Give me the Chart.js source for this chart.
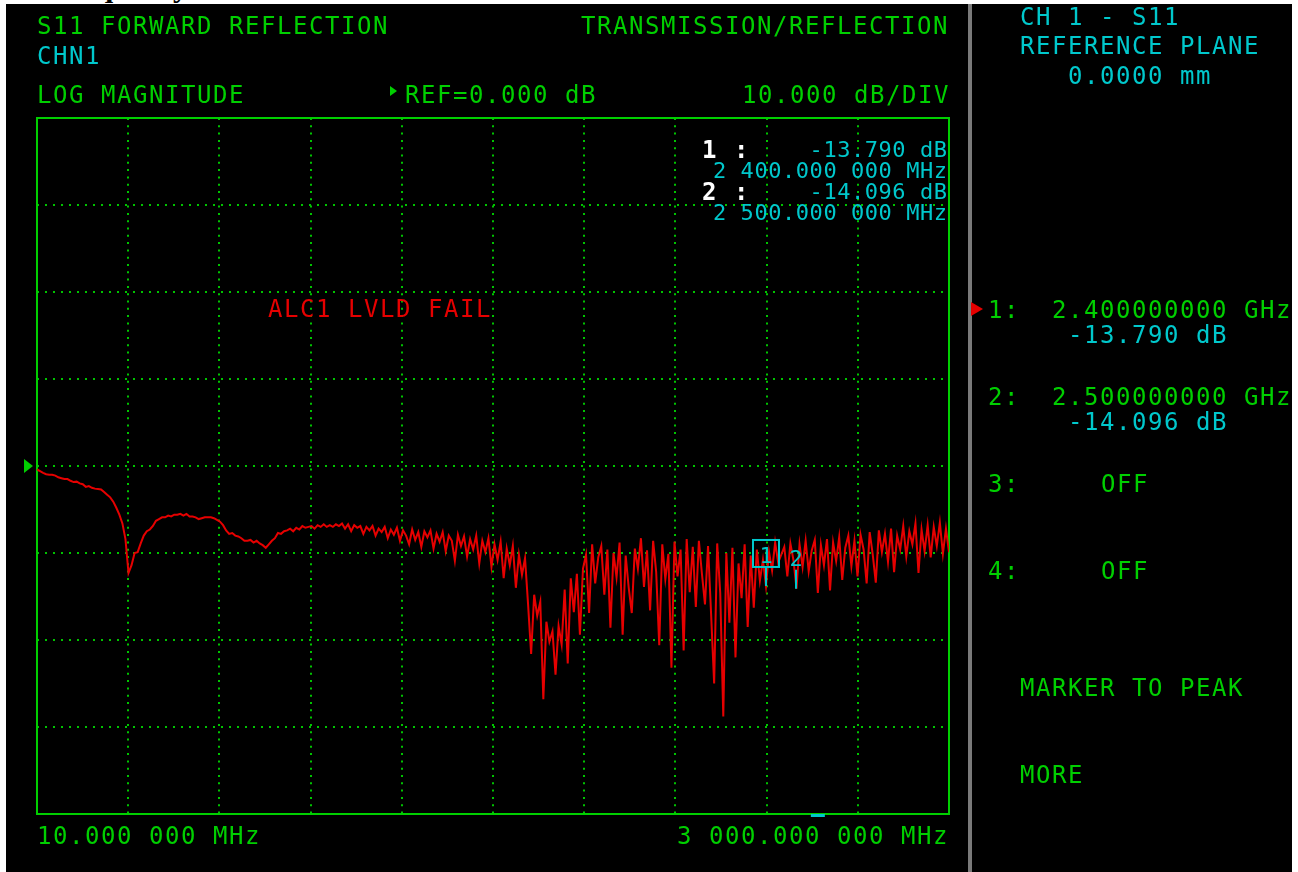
<!DOCTYPE html>
<html>
<head>
<meta charset="utf-8">
<title>S11 Forward Reflection</title>
<script src="https://cdn.jsdelivr.net/npm/chart.js@4.4.1/dist/chart.umd.min.js"></script>
<style>
  html, body { margin: 0; padding: 0; background: #fff; width: 1298px; height: 872px; overflow: hidden; }
  #caption { position: absolute; left: 52px; top: -30px; font: bold 30px 'Liberation Serif', serif; color: #000; white-space: pre; line-height: normal; }
  #screen { position: absolute; left: 6px; top: 4px; width: 1286px; height: 868px; background: #000; }
  #divider { position: absolute; left: 968px; top: 4px; width: 4px; height: 868px; background: #7a7a7a; }
  #plot { position: absolute; left: 0; top: 0; }
  .t { position: absolute; font-family: 'DejaVu Sans Mono', monospace; font-size: 24px; line-height: 28px;
       letter-spacing: 1.55px; white-space: pre; }
  .sm { font-size: 22px; letter-spacing: 0.55px; }
  .bw { font-weight: bold; color: #fff; }
  .tri { position: absolute; width: 0; height: 0; border-top-style: solid; border-bottom-style: solid;
         border-top-color: transparent; border-bottom-color: transparent; border-left-style: solid; }
</style>
</head>
<body>
<div id="caption">Frequency</div>
<div id="screen"></div>
<div id="divider"></div>
<canvas id="plot" width="1298" height="872"></canvas>
<div id="texts"></div>
<script>
// Sweep definition (MHz)
const START_MHZ = 10;
const STOP_MHZ = 3000;
const STEP_MHZ = 10;

// Display settings
const refLevelDb = 0;
const scaleDbPerDiv = 10;
const divsX = 10;
const divsY = 8;

// Measured S11 magnitude, one value per sweep point (dB)
const s11Db = [
  -0.4, -0.6, -0.8, -0.95, -1.0, -1.0, -1.1, -1.3, -1.4, -1.5,
  -1.5, -1.7, -1.85, -1.8, -2.0, -2.1, -2.4, -2.3, -2.5, -2.6,
  -2.65, -2.7, -3.0, -3.3, -3.6, -4.1, -4.8, -5.6, -6.6, -8.4,
  -12.3, -11.4, -10.0, -9.9, -8.9, -8.0, -7.5, -7.3, -6.9, -6.3,
  -6.1, -5.9, -5.9, -5.7, -5.8, -5.6, -5.6, -5.5, -5.7, -5.5,
  -5.8, -5.8, -5.9, -6.1, -6.0, -5.9, -5.9, -5.9, -6.0, -6.2,
  -6.4, -6.8, -7.4, -7.8, -7.7, -8.0, -8.1, -8.3, -8.6, -8.6,
  -8.5, -8.8, -8.6, -8.9, -9.1, -9.4, -9.0, -8.6, -8.3, -7.7,
  -7.8, -7.5, -7.4, -7.2, -7.5, -7.1, -7.3, -6.9, -7.1, -7.0,
  -6.9, -7.2, -6.8, -7.0, -6.7, -7.0, -6.8, -7.0, -6.7, -6.9,
  -6.6, -7.2, -6.7, -7.5, -6.8, -7.1, -6.9, -7.8, -7.0, -7.4,
  -6.9, -8.0, -7.2, -7.6, -7.0, -8.3, -7.3, -7.9, -7.1, -8.6,
  -7.4, -8.0, -9.0, -7.3, -8.5, -7.6, -9.3, -7.5, -8.2, -7.4,
  -9.5, -7.8, -8.7, -7.6, -9.8, -8.0, -8.6, -10.9, -7.9, -9.2,
  -8.1, -10.4, -8.4, -9.6, -8.0, -11.2, -8.6, -9.9, -8.3, -11.6,
  -9.0, -10.8, -8.7, -12.9, -9.5, -11.4, -9.2, -14.0, -10.2, -12.5,
  -10.6, -15.9, -21.6, -14.8, -17.2, -15.6, -26.8, -17.9, -20.2, -19.0,
  -24.0, -18.4, -20.5, -14.2, -22.7, -12.9, -16.8, -12.4, -19.4, -11.8,
  -10.2, -16.9, -9.0, -13.5, -10.5, -9.2, -14.8, -9.6, -18.6, -10.0,
  -12.8, -8.8, -19.4, -10.3, -14.0, -16.9, -9.5, -11.8, -8.3, -13.9,
  -9.7, -16.6, -8.6, -12.2, -20.6, -9.0, -13.0, -10.1, -23.2, -8.7,
  -12.7, -9.6, -21.2, -8.4, -14.5, -9.3, -16.2, -8.6, -12.4, -15.9,
  -9.2, -17.0, -25.0, -8.9, -14.6, -28.8, -10.0, -18.0, -9.4, -22.0,
  -11.2, -15.2, -9.0, -18.5, -10.3, -16.3, -9.6, -13.2, -10.8, -13.79,
  -9.9, -12.0, -8.8, -11.1, -10.2, -9.3, -12.7, -8.9, -10.8, -14.096,
  -9.0, -11.6, -8.6, -12.1, -9.7, -8.5, -14.6, -9.1, -11.4, -8.4,
  -14.3, -8.8, -10.9, -8.2, -13.1, -9.4, -8.0, -11.5, -8.6, -12.7,
  -7.9, -9.6, -13.5, -7.6, -10.2, -13.4, -7.4, -9.9, -7.8, -11.0,
  -7.2, -12.2, -8.0, -9.6, -6.9, -10.4, -7.5, -9.0, -6.6, -12.3,
  -7.3, -9.8, -6.8, -10.5, -7.0, -9.2, -6.5, -10.1, -7.2, -9.9
];

// Markers
const markerFreqMHz = [2400, 2500];
const markerDb = [-13.790, -14.096];
const markerStates = ['ON', 'ON', 'OFF', 'OFF'];

// Sweep position indicator under the graticule
const sweepIndicatorMHz = 2570;

const GREEN = '#00cf00';
const GRID = '#00c400';
const CYAN = '#00c8cc';
const RED = '#e60000';

// ---- number formatting like the instrument ----
function fmtMHz(f) {
  const whole = Math.floor(f);
  const intStr = whole >= 1000
    ? Math.floor(whole / 1000) + ' ' + String(whole % 1000).padStart(3, '0')
    : String(whole);
  const frac = String(Math.round((f - whole) * 1e6)).padStart(6, '0');
  return intStr + '.' + frac.slice(0, 3) + ' ' + frac.slice(3) + ' MHz';
}
function fmtGHz(f) { return (f / 1000).toFixed(9) + ' GHz'; }
function fmtDb(v) { return v.toFixed(3) + ' dB'; }

// ---- annotation text ----
const textLayer = document.getElementById('texts');
function addText(str, x, capTop, color, cls, alignRight) {
  const d = document.createElement('div');
  d.className = 't' + (cls ? ' ' + cls : '');
  d.textContent = str;
  d.style.top = (capTop - 5) + 'px';
  if (color) d.style.color = color;
  if (alignRight) {
    d.style.right = (1298 - x) + 'px';
    d.style.marginRight = cls && cls.indexOf('sm') >= 0 ? '-0.55px' : '-1.55px';
  } else {
    d.style.left = x + 'px';
  }
  textLayer.appendChild(d);
  return d;
}
function addTri(x, y, w, h, color) {
  const d = document.createElement('div');
  d.className = 'tri';
  d.style.left = x + 'px';
  d.style.top = y + 'px';
  d.style.borderLeftWidth = w + 'px';
  d.style.borderLeftColor = color;
  d.style.borderTopWidth = (h / 2) + 'px';
  d.style.borderBottomWidth = (h / 2) + 'px';
  textLayer.appendChild(d);
}

// Header
addText('S11 FORWARD REFLECTION', 37, 17, GREEN);
addText('TRANSMISSION/REFLECTION', 581, 17, GREEN);
addText('CHN1', 37, 47, CYAN);
addText('LOG MAGNITUDE', 37, 86, GREEN);
addTri(390, 86, 7, 10, GREEN);
addText('REF=' + refLevelDb.toFixed(3) + ' dB', 405, 86, GREEN);
addText(scaleDbPerDiv.toFixed(3) + ' dB/DIV', 742, 86, GREEN);

// Marker readout inside the graticule
markerFreqMHz.forEach((f, i) => {
  const y0 = 141 + i * 42;
  addText((i + 1) + ' :', 702, y0, null, 'bw');
  addText(fmtDb(markerDb[i]), 947, y0, CYAN, 'sm', true);
  addText(fmtMHz(f), 947, y0 + 21, CYAN, 'sm', true);
});

// Warning message
addText('ALC1 LVLD FAIL', 268, 300, RED);

// Stimulus span
addText(fmtMHz(START_MHZ), 37, 827, GREEN);
addText(fmtMHz(STOP_MHZ), 677, 827, GREEN);

// Right-hand softkey panel
addText('CH 1 - S11', 1020, 8, CYAN);
addText('REFERENCE PLANE', 1020, 37, CYAN);
addText('0.0000 mm', 1068, 67, CYAN);
addTri(971, 302, 12, 15, RED);
markerStates.forEach((st, i) => {
  const y0 = 301 + i * 87;
  addText((i + 1) + ':', 988, y0, GREEN);
  if (st === 'ON') {
    addText(fmtGHz(markerFreqMHz[i]), 1052, y0, GREEN);
    addText(fmtDb(markerDb[i]), 1068, y0 + 25, CYAN);
  } else {
    addText('OFF', 1101, y0, GREEN);
  }
});
addText('MARKER TO PEAK', 1020, 679, GREEN);
addText('MORE', 1020, 766, GREEN);

// ---- chart ----
const points = s11Db.map((v, i) => ({ x: START_MHZ + i * STEP_MHZ, y: v }));
const xDivs = Array.from({ length: divsX + 1 }, (_, k) => START_MHZ + k * (STOP_MHZ - START_MHZ) / divsX);
const yMin = refLevelDb - scaleDbPerDiv * divsY / 2;
const yMax = refLevelDb + scaleDbPerDiv * divsY / 2;

const instrumentPlugin = {
  id: 'instrument',
  beforeDatasetsDraw(chart) {
    const { ctx, chartArea: a, scales: { y } } = chart;
    ctx.save();
    // graticule frame
    ctx.strokeStyle = GREEN;
    ctx.lineWidth = 2;
    ctx.strokeRect(a.left, a.top, a.right - a.left, a.bottom - a.top);
    // reference level arrow
    const yr = y.getPixelForValue(refLevelDb);
    ctx.fillStyle = GREEN;
    ctx.beginPath();
    ctx.moveTo(a.left - 13, yr - 7);
    ctx.lineTo(a.left - 4, yr);
    ctx.lineTo(a.left - 13, yr + 7);
    ctx.closePath();
    ctx.fill();
    ctx.restore();
  },
  afterDatasetsDraw(chart) {
    const { ctx, chartArea: a, scales: { x, y } } = chart;
    ctx.save();
    ctx.strokeStyle = CYAN;
    ctx.fillStyle = CYAN;
    ctx.lineWidth = 2;
    ctx.font = '22px "DejaVu Sans Mono", monospace';
    ctx.textAlign = 'center';
    ctx.textBaseline = 'alphabetic';
    markerFreqMHz.forEach((f, i) => {
      const px = Math.round(x.getPixelForValue(f));
      const py = y.getPixelForValue(markerDb[i]);
      ctx.beginPath();
      ctx.moveTo(px, py - 19);
      ctx.lineTo(px, py);
      ctx.stroke();
      if (i === 0) ctx.strokeRect(px - 13, py - 46, 26, 27);
      ctx.fillText(String(i + 1), px, py - 23);
    });
    const sx = x.getPixelForValue(sweepIndicatorMHz);
    ctx.fillRect(sx - 7, a.bottom, 14, 3);
    ctx.restore();
  }
};

new Chart(document.getElementById('plot'), {
  type: 'line',
  data: {
    datasets: [{
      data: points,
      borderColor: RED,
      borderWidth: 2,
      pointRadius: 0,
      tension: 0,
      fill: false
    }]
  },
  options: {
    responsive: false,
    animation: false,
    events: [],
    layout: { padding: { left: 37, top: 118, right: 349, bottom: 58 } },
    plugins: { legend: { display: false }, tooltip: { enabled: false }, title: { display: false } },
    scales: {
      x: {
        type: 'linear', min: START_MHZ, max: STOP_MHZ,
        ticks: { display: false },
        grid: { color: GRID, lineWidth: 2, drawTicks: false },
        border: { display: false, dash: [2, 5.3] },
        afterBuildTicks: s => { s.ticks = xDivs.map(v => ({ value: v })); }
      },
      y: {
        type: 'linear', min: yMin, max: yMax,
        ticks: { display: false, stepSize: scaleDbPerDiv },
        grid: { color: GRID, lineWidth: 2, drawTicks: false },
        border: { display: false, dash: [2, 6] }
      }
    }
  },
  plugins: [instrumentPlugin]
});
</script>
</body>
</html>
